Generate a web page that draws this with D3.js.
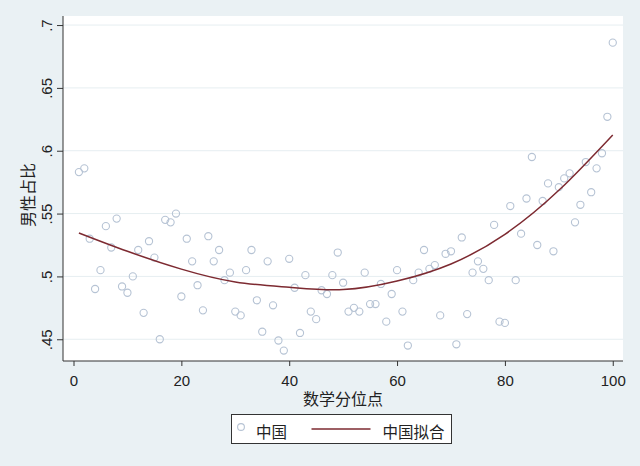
<!DOCTYPE html>
<html>
<head>
<meta charset="utf-8">
<script src="https://cdn.jsdelivr.net/npm/d3@7"></script>
<style>
  body { margin: 0; background: #eaf1f4; }
  svg text { font-family: "Liberation Sans", "Noto Sans CJK SC", sans-serif; fill: #222; }
</style>
</head>
<body>
<div id="chart"></div>
<script>
// Scatter of male share by math percentile, with fitted curve (Stata style)

// percentile points (x) and male share (y)
var pct = [1,2,3,4,5,6,7,8,9,10,11,12,13,14,15,16,17,18,19,20,
	21,22,23,24,25,26,27,28,29,30,31,32,33,34,35,36,37,38,39,40,
	41,42,43,44,45,46,47,48,49,50,51,52,53,54,55,56,57,58,59,60,
	61,62,63,64,65,66,67,68,69,70,71,72,73,74,75,76,77,78,79,80,
	81,82,83,84,85,86,87,88,89,90,91,92,93,94,95,96,97,98,99,100];
var share = [.583,.586,.530,.490,.505,.540,.523,.546,.492,.487,
	.500,.521,.471,.528,.515,.450,.545,.543,.550,.484,
	.530,.512,.493,.473,.532,.512,.521,.497,.503,.472,
	.469,.505,.521,.481,.456,.512,.477,.449,.441,.514,
	.491,.455,.501,.472,.466,.489,.486,.501,.519,.495,
	.472,.475,.472,.503,.478,.478,.494,.464,.486,.505,
	.472,.445,.497,.503,.521,.506,.509,.469,.518,.520,
	.446,.531,.470,.503,.512,.506,.497,.541,.464,.463,
	.556,.497,.534,.562,.595,.525,.560,.574,.520,.571,
	.578,.582,.543,.557,.591,.567,.586,.598,.627,.686];

// fitted curve
var fitX = [1, 10, 20, 30, 40, 50, 60, 70, 80, 90, 100];
var fitY = [.5346, .5200, .5058, .4956, .4913, .4895, .4963, .5099, .5335, .5685, .6126];

var xTicks = [0, 20, 40, 60, 80, 100];
var yTicks = [.45, .5, .55, .6, .65, .7];
var yTickLabels = [".45", ".5", ".55", ".6", ".65", ".7"];
var seriesNames = ["中国", "中国拟合"];
var xTitle = "数学分位点";
var yTitle = "男性占比";

var W = 640, H = 466;
var plot = {left: 63, right: 623, top: 16, bottom: 361};

var svg = d3.select("#chart").append("svg")
	.attr("width", W)
	.attr("height", H);

svg.append("rect").attr("width", W).attr("height", H).attr("fill", "#eaf1f4");
svg.append("rect")
	.attr("x", plot.left).attr("y", plot.top)
	.attr("width", plot.right - plot.left).attr("height", plot.bottom - plot.top)
	.attr("fill", "#fff");

var x = d3.scaleLinear().domain([-1.95, 101.9]).range([plot.left, plot.right]);
var y = d3.scaleLinear().domain([.4327, .7072]).range([plot.bottom, plot.top]);

// gridlines
svg.append("g").selectAll("line")
	.data(yTicks)
	.enter().append("line")
	  .attr("x1", plot.left).attr("x2", plot.right)
	  .attr("y1", function(d) { return y(d); })
	  .attr("y2", function(d) { return y(d); })
	  .attr("stroke", "#e6eef1")
	  .attr("stroke-width", 1);

// scatter points
svg.append("g").selectAll("circle")
	.data(pct)
	.enter().append("circle")
	  .attr("cx", function(d) { return x(d); })
	  .attr("cy", function(d, i) { return y(share[i]); })
	  .attr("r", 3.6)
	  .attr("fill", "none")
	  .attr("stroke", "#b6c3d4")
	  .attr("stroke-width", 1.1);

// fitted curve
svg.append("path")
	.datum(fitX)
	.attr("fill", "none")
	.attr("stroke", "#7d2a31")
	.attr("stroke-width", 1.5)
	.attr("d", d3.line()
		.curve(d3.curveNatural)
		.x(function(d) { return x(d); })
		.y(function(d, i) { return y(fitY[i]); }));

// x axis
var xAxis = svg.append("g")
	.attr("transform", "translate(0," + plot.bottom + ")")
	.call(d3.axisBottom(x).tickValues(xTicks).tickSize(5).tickPadding(9).tickSizeOuter(0));
xAxis.select(".domain").attr("d", "M" + plot.left + ",0H" + plot.right).attr("stroke", "#333");
xAxis.selectAll(".tick line").attr("stroke", "#333");
xAxis.selectAll("text").attr("font-size", 15).style("fill", "#222");

// y axis, labels turned vertical
var yAxis = svg.append("g")
	.attr("transform", "translate(" + plot.left + ",0)")
	.call(d3.axisLeft(y).tickValues(yTicks).tickSize(6).tickSizeOuter(0)
		.tickFormat(function(d, i) { return yTickLabels[i]; }));
yAxis.select(".domain").attr("d", "M0," + plot.top + "V" + plot.bottom).attr("stroke", "#333");
yAxis.selectAll(".tick line").attr("stroke", "#333");
yAxis.selectAll("text")
	.attr("transform", "rotate(-90)")
	.attr("x", 0).attr("y", -11).attr("dy", 0)
	.attr("text-anchor", "middle")
	.attr("font-size", 15)
	.style("fill", "#222");

// axis titles
svg.append("text")
	.attr("x", 343).attr("y", 405)
	.attr("text-anchor", "middle")
	.attr("font-size", 16)
	.text(xTitle);
svg.append("text")
	.attr("transform", "translate(34,195) rotate(-90)")
	.attr("text-anchor", "middle")
	.attr("font-size", 16)
	.text(yTitle);

// legend
var lg = svg.append("g");
lg.append("rect")
	.attr("x", 231.5).attr("y", 414.5)
	.attr("width", 220).attr("height", 29)
	.attr("fill", "#fff").attr("stroke", "#333").attr("stroke-width", 1);
lg.append("circle")
	.attr("cx", 241).attr("cy", 427).attr("r", 3.4)
	.attr("fill", "none").attr("stroke", "#b6c3d4").attr("stroke-width", 1.1);
lg.append("text").attr("x", 256).attr("y", 438).attr("font-size", 15.5).text(seriesNames[0]);
lg.append("line")
	.attr("x1", 311.5).attr("x2", 370.5).attr("y1", 429).attr("y2", 429)
	.attr("stroke", "#7d2a31").attr("stroke-width", 1.5);
lg.append("text").attr("x", 382.5).attr("y", 438).attr("font-size", 15.5).text(seriesNames[1]);
</script>
</body>
</html>
